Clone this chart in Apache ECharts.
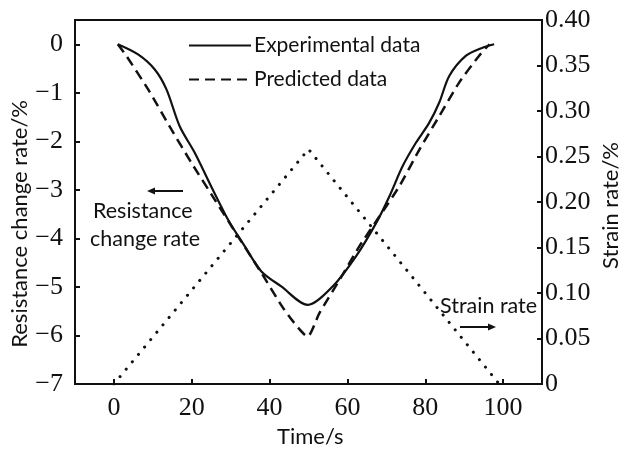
<!DOCTYPE html>
<html>
<head>
<meta charset="utf-8">
<script src="https://cdn.jsdelivr.net/npm/echarts@6/dist/echarts.min.js"></script>
<style>
html, body { margin: 0; padding: 0; background: #fff; }
#lineChart { width: 624px; height: 450px; }
</style>
</head>
<body>
<div id="lineChart"></div>
<script>
var expTime = [1, 6.2, 10.5, 13.5, 16.9, 20.8, 25, 29.3, 33.6, 37.9, 43, 49.8, 56.2, 62.2, 67.4, 70.8, 74.2, 77.6, 81, 83.6, 86.2, 90.4, 94.7, 97.7];
var expVal  = [0, -0.21, -0.52, -0.93, -1.69, -2.24, -2.93, -3.61, -4.16, -4.68, -4.99, -5.37, -4.99, -4.37, -3.68, -3.13, -2.51, -2.03, -1.62, -1.2, -0.65, -0.24, -0.07, 0];

var predTime = [1, 3.2, 8.8, 14.8, 19.9, 25.9, 31.9, 37.9, 43.8, 49.8, 52.8, 58, 63.1, 68.2, 73.3, 78.5, 83.6, 88.7, 93.8, 96.5];
var predVal  = [0, -0.24, -0.93, -1.76, -2.44, -3.2, -3.96, -4.71, -5.47, -6.02, -5.54, -4.85, -4.16, -3.55, -2.93, -2.17, -1.48, -0.79, -0.24, 0];

var strainTime = [0, 50, 99];
var strainVal  = [0, 0.258, 0];

var xTicks = [0, 20, 40, 60, 80, 100];
var leftTicks = [-7, -6, -5, -4, -3, -2, -1, 0];
var rightTicks = [0, 0.05, 0.10, 0.15, 0.20, 0.25, 0.30, 0.35, 0.40];

function pairs(xs, ys) {
  var out = [];
  for (var i = 0; i < xs.length; i++) out.push([xs[i], ys[i]]);
  return out;
}

var serif = '"Liberation Serif", "DejaVu Serif", serif';
var sans = 'Lato, "Noto Sans", sans-serif';
var ink = '#111';

var chart = echarts.init(document.getElementById('lineChart'));
chart.setOption({
  animation: false,
  backgroundColor: '#fff',
  grid: {
    left: 75, right: 82, top: 20, bottom: 66,
    show: true, borderColor: ink, borderWidth: 2
  },
  legend: {
    orient: 'vertical',
    left: 188, top: 35, padding: 0,
    itemWidth: 62, itemHeight: 14, itemGap: 13,
    itemStyle: { opacity: 0 },
    data: ['Experimental data', 'Predicted data'],
    textStyle: { color: ink, fontFamily: sans, fontSize: 21, padding: [0, 0, 0, -2] }
  },
  xAxis: {
    type: 'value', min: -10, max: 110,
    splitLine: { show: false },
    axisLine: { onZero: false, lineStyle: { color: ink, width: 2 } },
    axisTick: { inside: true, length: 5, customValues: xTicks, lineStyle: { color: ink, width: 2 } },
    axisLabel: { customValues: xTicks, margin: 11, color: ink, fontFamily: serif, fontSize: 26 }
  },
  yAxis: [{
    type: 'value', min: -7, max: 0.5,
    splitLine: { show: false },
    axisLine: { show: true, onZero: false, lineStyle: { color: ink, width: 2 } },
    axisTick: { show: true, inside: true, length: 5, customValues: leftTicks, lineStyle: { color: ink, width: 2 } },
    axisLabel: {
      customValues: leftTicks, margin: 12, color: ink, fontFamily: serif, fontSize: 26,
      formatter: function (v) { return v < 0 ? '\u2212' + Math.abs(v) : String(v); }
    }
  }, {
    type: 'value', min: 0, max: 0.4, position: 'right',
    splitLine: { show: false },
    axisLine: { show: true, onZero: false, lineStyle: { color: ink, width: 2 } },
    axisTick: { show: true, inside: true, length: 5, customValues: rightTicks, lineStyle: { color: ink, width: 2 } },
    axisLabel: {
      customValues: rightTicks, margin: 3, color: ink, fontFamily: serif, fontSize: 26,
      formatter: function (v) { return v === 0 ? '0' : v.toFixed(2); }
    }
  }],
  series: [{
    name: 'Experimental data', type: 'line', yAxisIndex: 0,
    data: pairs(expTime, expVal),
    smooth: 0.3, symbol: 'none',
    lineStyle: { color: ink, width: 2.2 },
    itemStyle: { color: ink }
  }, {
    name: 'Predicted data', type: 'line', yAxisIndex: 0,
    data: pairs(predTime, predVal),
    smooth: 0.2, symbol: 'none',
    lineStyle: { color: ink, width: 2.5, type: [10, 6] },
    itemStyle: { color: ink }
  }, {
    name: 'Strain rate', type: 'line', yAxisIndex: 1,
    data: pairs(strainTime, strainVal),
    symbol: 'none',
    lineStyle: { color: ink, width: 3, type: [0.1, 9.5], cap: 'round' },
    itemStyle: { color: ink }
  }],
  graphic: [
    // axis names
    { type: 'text', left: 9, top: 100, rotation: Math.PI / 2,
      style: { text: 'Resistance change rate/%', fill: ink, font: '22px ' + sans } },
    { type: 'text', left: 600, top: 142, rotation: Math.PI / 2,
      style: { text: 'Strain rate/%', fill: ink, font: '22px ' + sans } },
    { type: 'text', left: 277, top: 426,
      style: { text: 'Time/s', fill: ink, font: '22px ' + sans } },
    // annotations
    { type: 'text', left: 93, top: 200,
      style: { text: 'Resistance', fill: ink, font: '21.5px ' + sans } },
    { type: 'text', left: 90, top: 228,
      style: { text: 'change rate', fill: ink, font: '21.5px ' + sans } },
    { type: 'line', shape: { x1: 154, y1: 191, x2: 183, y2: 191 }, style: { stroke: ink, lineWidth: 2 } },
    { type: 'polygon', shape: { points: [[147, 191], [155, 187.5], [155, 194.5]] }, style: { fill: ink } },
    { type: 'text', left: 440, top: 295,
      style: { text: 'Strain rate', fill: ink, font: '21.5px ' + sans } },
    { type: 'line', shape: { x1: 460, y1: 327, x2: 489, y2: 327 }, style: { stroke: ink, lineWidth: 2 } },
    { type: 'polygon', shape: { points: [[496, 327], [488, 323.5], [488, 330.5]] }, style: { fill: ink } }
  ]
});
</script>
</body>
</html>
